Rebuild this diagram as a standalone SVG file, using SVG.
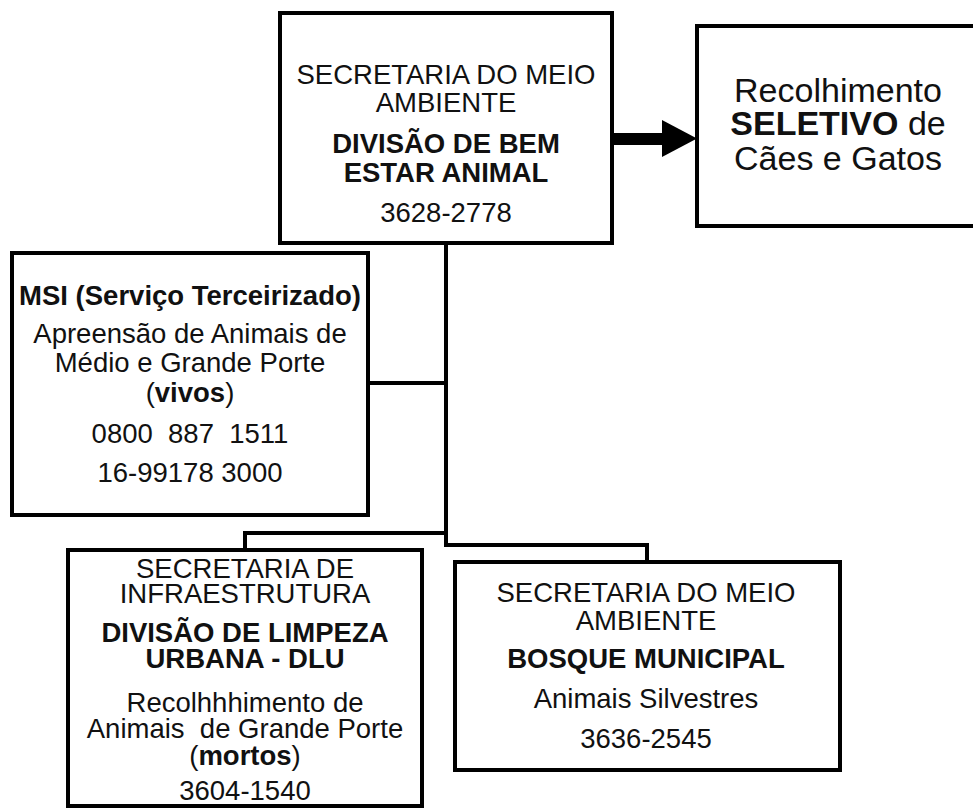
<svg xmlns="http://www.w3.org/2000/svg" width="973" height="808" viewBox="0 0 973 808">
<style>
.box{fill:#fff;stroke:#000;stroke-width:4}
.ln{fill:none;stroke:#000;stroke-width:4}
text{font-family:"Liberation Sans",Arial,sans-serif;font-size:27.5px;fill:#111;text-anchor:middle;white-space:pre}
.b{font-weight:bold}
.big{font-size:34px}
</style>
<rect width="973" height="808" fill="#fff"/>
<g id="connectors">
<path class="ln" d="M446,243 V545 H647 V562"/>
<path class="ln" d="M368,383 H446"/>
<path class="ln" d="M245,550 V533 H446"/>
<rect x="612" y="133" width="52" height="12" fill="#000"/>
<polygon points="662,120 697,138.5 662,157" fill="#000"/>
</g>
<g id="n-bem-estar">
<rect class="box" x="280" y="13" width="332" height="230"/>
<text x="446" y="84">SECRETARIA DO MEIO</text>
<text x="446" y="112">AMBIENTE</text>
<text x="446" y="153" class="b">DIVISÃO DE BEM</text>
<text x="446" y="182" class="b">ESTAR ANIMAL</text>
<text x="446" y="222">3628-2778</text>
</g>
<g id="n-recolhimento">
<rect class="box" x="697" y="26" width="290" height="200"/>
<text x="838" y="102" class="big">Recolhimento</text>
<text x="838" y="135" class="big"><tspan class="b">SELETIVO</tspan> de</text>
<text x="838" y="170" class="big">Cães e Gatos</text>
</g>
<g id="n-msi">
<rect class="box" x="12" y="253" width="356" height="262"/>
<text x="190" y="305" class="b">MSI (Serviço Terceirizado)</text>
<text x="190" y="343">Apreensão de Animais de</text>
<text x="190" y="372">Médio e Grande Porte</text>
<text x="190" y="402">(<tspan class="b">vivos</tspan>)</text>
<text x="190" y="443">0800  887  1511</text>
<text x="190" y="482">16-99178 3000</text>
</g>
<g id="n-dlu">
<rect class="box" x="68" y="550" width="354" height="256"/>
<text x="245" y="578">SECRETARIA DE</text>
<text x="245" y="603">INFRAESTRUTURA</text>
<text x="245" y="642" class="b">DIVISÃO DE LIMPEZA</text>
<text x="245" y="668" class="b">URBANA - DLU</text>
<text x="245" y="712">Recolhhhimento de</text>
<text x="245" y="738">Animais  de Grande Porte</text>
<text x="245" y="765">(<tspan class="b">mortos</tspan>)</text>
<text x="245" y="800">3604-1540</text>
</g>
<g id="n-bosque">
<rect class="box" x="455" y="562" width="385" height="208"/>
<text x="646" y="602">SECRETARIA DO MEIO</text>
<text x="646" y="630">AMBIENTE</text>
<text x="646" y="668" class="b">BOSQUE MUNICIPAL</text>
<text x="646" y="708">Animais Silvestres</text>
<text x="646" y="748">3636-2545</text>
</g>
</svg>
